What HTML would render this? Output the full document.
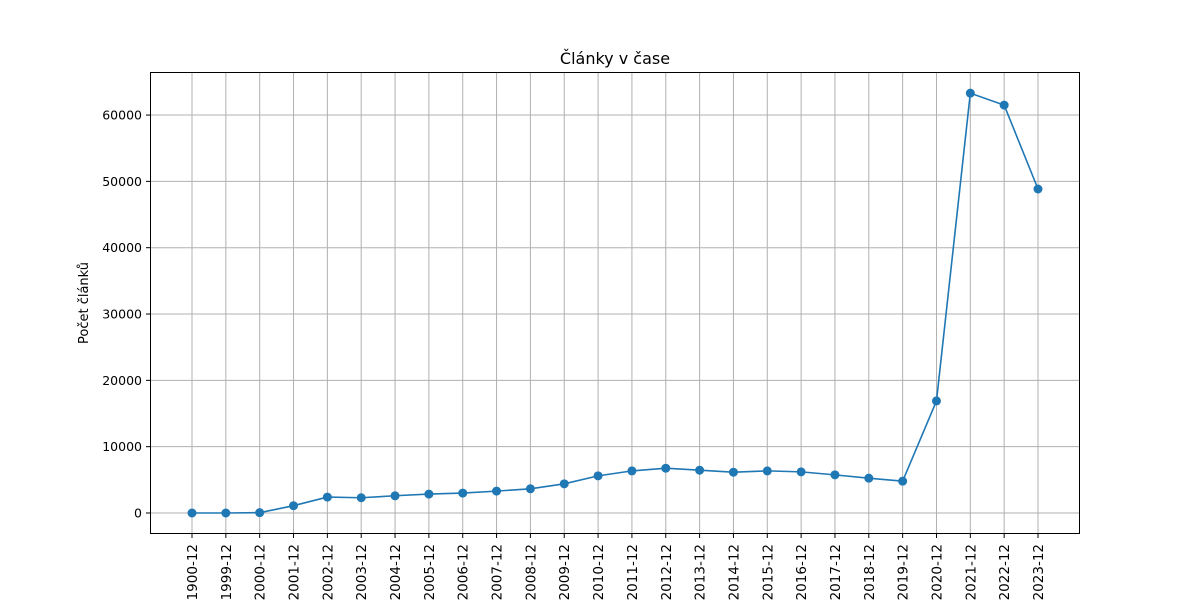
<!DOCTYPE html>
<html><head><meta charset="utf-8"><style>
body{margin:0;background:#fff;}
svg text{font-family:"DejaVu Sans","Liberation Sans",sans-serif;fill:#000;}
</style></head><body>
<svg id="chart" width="1200" height="600">
<rect x="0" y="0" width="1200" height="600" fill="#fff"/>
<text x="615" y="64" font-size="16" text-anchor="middle">Články v čase</text>
<text transform="translate(88,303) rotate(-90)" font-size="13" text-anchor="middle">Počet článků</text>
<g id="grid"></g><g id="axes"></g><g id="series"></g>
<rect x="150.5" y="72.5" width="929" height="461" fill="none" stroke="#000" stroke-width="1"/>
</svg>
<script>
const categories=["1900-12","1999-12","2000-12","2001-12","2002-12","2003-12","2004-12","2005-12","2006-12","2007-12","2008-12","2009-12","2010-12","2011-12","2012-12","2013-12","2014-12","2015-12","2016-12","2017-12","2018-12","2019-12","2020-12","2021-12","2022-12","2023-12"];
const values=[0,0,50,1100,2400,2300,2600,2850,3000,3300,3650,4400,5600,6350,6750,6450,6150,6350,6200,5750,5250,4800,16900,63300,61500,48850];
const yTicks=[0,10000,20000,30000,40000,50000,60000];
const NS="http://www.w3.org/2000/svg";
const L=150,R=1080,T=72,B=534,yMin=-3166,yMax=66490;
const step=(1038-192)/25;
function xS(i){return 192+i*step;}
function yS(v){return B-(v-yMin)/(yMax-yMin)*(B-T);}
function mk(tag,attrs,parent){const e=document.createElementNS(NS,tag);for(const k in attrs)e.setAttribute(k,attrs[k]);parent.appendChild(e);return e;}
const grid=document.getElementById('grid'),axes=document.getElementById('axes'),ser=document.getElementById('series');
categories.forEach((c,i)=>{
  const x=xS(i);
  const g=mk('line',{x1:x,x2:x,y1:T,y2:B,stroke:'#b0b0b0','stroke-width':1},grid);
  
  
  mk('line',{x1:x,x2:x,y1:B,y2:B+4,stroke:'#000'},axes);
  const t=mk('text',{transform:`translate(${x+5},${B+10}) rotate(-90)`,'font-size':13.5,'text-anchor':'end'},axes);
  t.textContent=c;
  
  
});
yTicks.forEach(v=>{
  const y=yS(v);
  const g=mk('line',{x1:L,x2:R,y1:y,y2:y,stroke:'#b0b0b0','stroke-width':1},grid);
  
  
  mk('line',{x1:L-4,x2:L,y1:y,y2:y,stroke:'#000'},axes);
  const t=mk('text',{x:L-8,y:y+4.5,'font-size':12.5,'text-anchor':'end'},axes);
  t.textContent=v;
  
  
});
const pts=values.map((v,i)=>xS(i)+','+yS(v)).join(' ');
const pl=mk('polyline',{points:pts,fill:'none',stroke:'#1f77b4','stroke-width':1.6},ser);


values.forEach((v,i)=>{
  const c=mk('circle',{cx:xS(i),cy:yS(v),r:4.5,fill:'#1f77b4'},ser);
  
  
});
</script>
</body></html>
